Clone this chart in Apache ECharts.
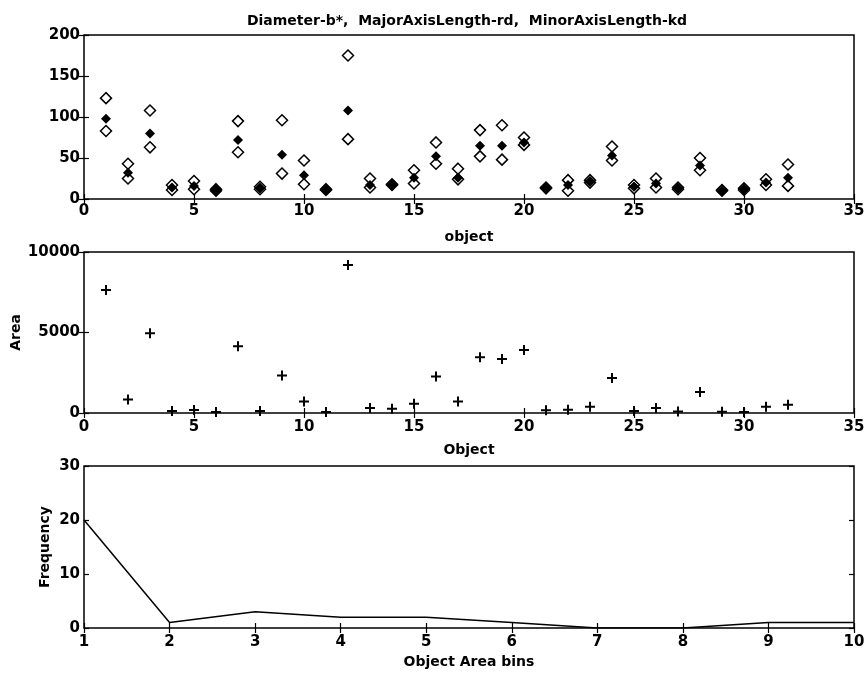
<!DOCTYPE html>
<html>
<head>
<meta charset="utf-8">
<script src="https://cdn.jsdelivr.net/npm/echarts@6/dist/echarts.min.js"></script>
<style>
  html, body { margin: 0; padding: 0; background: #fff; }
  #chart { width: 868px; height: 676px; }
</style>
</head>
<body>
<div id="chart"></div>
<script>
// object index 1..32
const objects = [1, 2, 3, 4, 5, 6, 7, 8, 9, 10, 11, 12, 13, 14, 15, 16,
  17, 18, 19, 20, 21, 22, 23, 24, 25, 26, 27, 28, 29, 30, 31, 32];
const diameter = [98, 32, 80, 14, 16, 11, 72, 13, 54, 29, 11, 108, 17, 17, 26, 52,
  26, 65, 65, 69, 13, 17, 21, 53, 15, 19, 13, 41, 10, 12, 20, 26];
const majorAxis = [123, 43, 108, 17, 22, 12, 95, 15, 96, 47, 12, 175, 25, 18, 35, 69,
  37, 84, 90, 75, 14, 23, 23, 64, 17, 25, 14, 50, 11, 13, 24, 42];
const minorAxis = [83, 25, 63, 11, 12, 10, 57, 12, 31, 18, 11, 73, 14, 17, 19, 43,
  24, 52, 48, 66, 13, 10, 20, 47, 13, 14, 12, 35, 10, 11, 17, 16];
const area = [7640, 845, 4950, 125, 185, 60, 4140, 125, 2330, 720, 60, 9190, 310, 270, 577, 2270,
  720, 3460, 3360, 3910, 165, 205, 390, 2180, 125, 310, 100, 1300, 80, 60, 390, 515];
const bins = [1, 2, 3, 4, 5, 6, 7, 8, 9, 10];
const freq = [20, 1, 3, 2, 2, 1, 0, 0, 1, 1];

const titleText = "Diameter-b*,  MajorAxisLength-rd,  MinorAxisLength-kd";

const font = "DejaVu Sans";
const labelStyle = { color: "#000", fontFamily: font, fontWeight: "bold", fontSize: 15 };
const nameStyle = { color: "#000", fontFamily: font, fontWeight: "bold", fontSize: 14 };

function pairs(xs, ys) {
  return xs.map((x, i) => [x, ys[i]]);
}

// plain numbers, no thousands separator
function plain(v) {
  return String(v);
}

// main axis with labels + a mirrored axis (ticks only) like a matlab box
function xAxes(grid, min, max, interval, name, margin, gap) {
  const base = {
    gridIndex: grid, type: "value", min: min, max: max, interval: interval,
    axisLine: { show: false }, splitLine: { show: false },
    axisTick: { inside: true, length: 5, lineStyle: { color: "#000", width: 1.2 } }
  };
  return [
    Object.assign({}, base, {
      position: "bottom", name: name, nameLocation: "middle", nameGap: gap,
      nameMoveOverlap: false, nameTextStyle: nameStyle,
      axisLabel: Object.assign({ margin: margin, formatter: plain }, labelStyle)
    }),
    Object.assign({}, base, { position: "top", axisLabel: { show: false } })
  ];
}

function yAxes(grid, min, max, interval, name, gap) {
  const base = {
    gridIndex: grid, type: "value", min: min, max: max, interval: interval,
    axisLine: { show: false }, splitLine: { show: false },
    axisTick: { inside: true, length: 5, lineStyle: { color: "#000", width: 1.2 } }
  };
  return [
    Object.assign({}, base, {
      position: "left", name: name, nameLocation: "middle", nameGap: gap,
      nameMoveOverlap: false, nameTextStyle: nameStyle,
      axisLabel: Object.assign({ margin: 4, formatter: plain }, labelStyle)
    }),
    Object.assign({}, base, { position: "right", axisLabel: { show: false } })
  ];
}

const gridBase = { left: 84, right: 14, show: true, borderColor: "#000", borderWidth: 1.5,
  backgroundColor: "#fff", containLabel: false, outerBoundsMode: "none" };

const plusPath = "path://M4,0H6V4H10V6H6V10H4V6H0V4H4Z";

const chart = echarts.init(document.getElementById("chart"));

chart.setOption({
  animation: false,
  backgroundColor: "#fff",
  title: {
    text: titleText, left: 462, top: 9, textAlign: "center",
    textStyle: { color: "#000", fontFamily: font, fontWeight: "bold", fontSize: 14 }
  },
  grid: [
    Object.assign({ top: 35, height: 164 }, gridBase),
    Object.assign({ top: 252, height: 161 }, gridBase),
    Object.assign({ top: 466, height: 162 }, gridBase)
  ],
  xAxis: [].concat(
    xAxes(0, 0, 35, 5, "object", 5, 31),
    xAxes(1, 0, 35, 5, "Object", 7, 30),
    xAxes(2, 1, 10, 1, "Object Area bins", 7, 27)
  ),
  yAxis: [].concat(
    yAxes(0, 0, 200, 50, "", 40),
    yAxes(1, 0, 10000, 5000, "Area", 61),
    yAxes(2, 0, 30, 10, "Frequency", 32)
  ),
  series: [
    {
      name: "Diameter", type: "scatter", xAxisIndex: 0, yAxisIndex: 0,
      data: pairs(objects, diameter), symbol: "diamond", symbolSize: 10,
      itemStyle: { color: "#000", opacity: 1 }
    },
    {
      name: "MajorAxisLength", type: "scatter", xAxisIndex: 0, yAxisIndex: 0,
      data: pairs(objects, majorAxis), symbol: "diamond", symbolSize: 11,
      itemStyle: { color: "rgba(0,0,0,0)", borderColor: "#000", borderWidth: 1.5, opacity: 1 }
    },
    {
      name: "MinorAxisLength", type: "scatter", xAxisIndex: 0, yAxisIndex: 0,
      data: pairs(objects, minorAxis), symbol: "diamond", symbolSize: 11,
      itemStyle: { color: "rgba(0,0,0,0)", borderColor: "#000", borderWidth: 1.5, opacity: 1 }
    },
    {
      name: "Area", type: "scatter", xAxisIndex: 2, yAxisIndex: 2,
      data: pairs(objects, area), symbol: plusPath, symbolSize: 10,
      itemStyle: { color: "#000", opacity: 1 }
    },
    {
      name: "Frequency", type: "line", xAxisIndex: 4, yAxisIndex: 4,
      data: pairs(bins, freq), showSymbol: false,
      lineStyle: { color: "#000", width: 1.5 }
    }
  ]
});
</script>
</body>
</html>
